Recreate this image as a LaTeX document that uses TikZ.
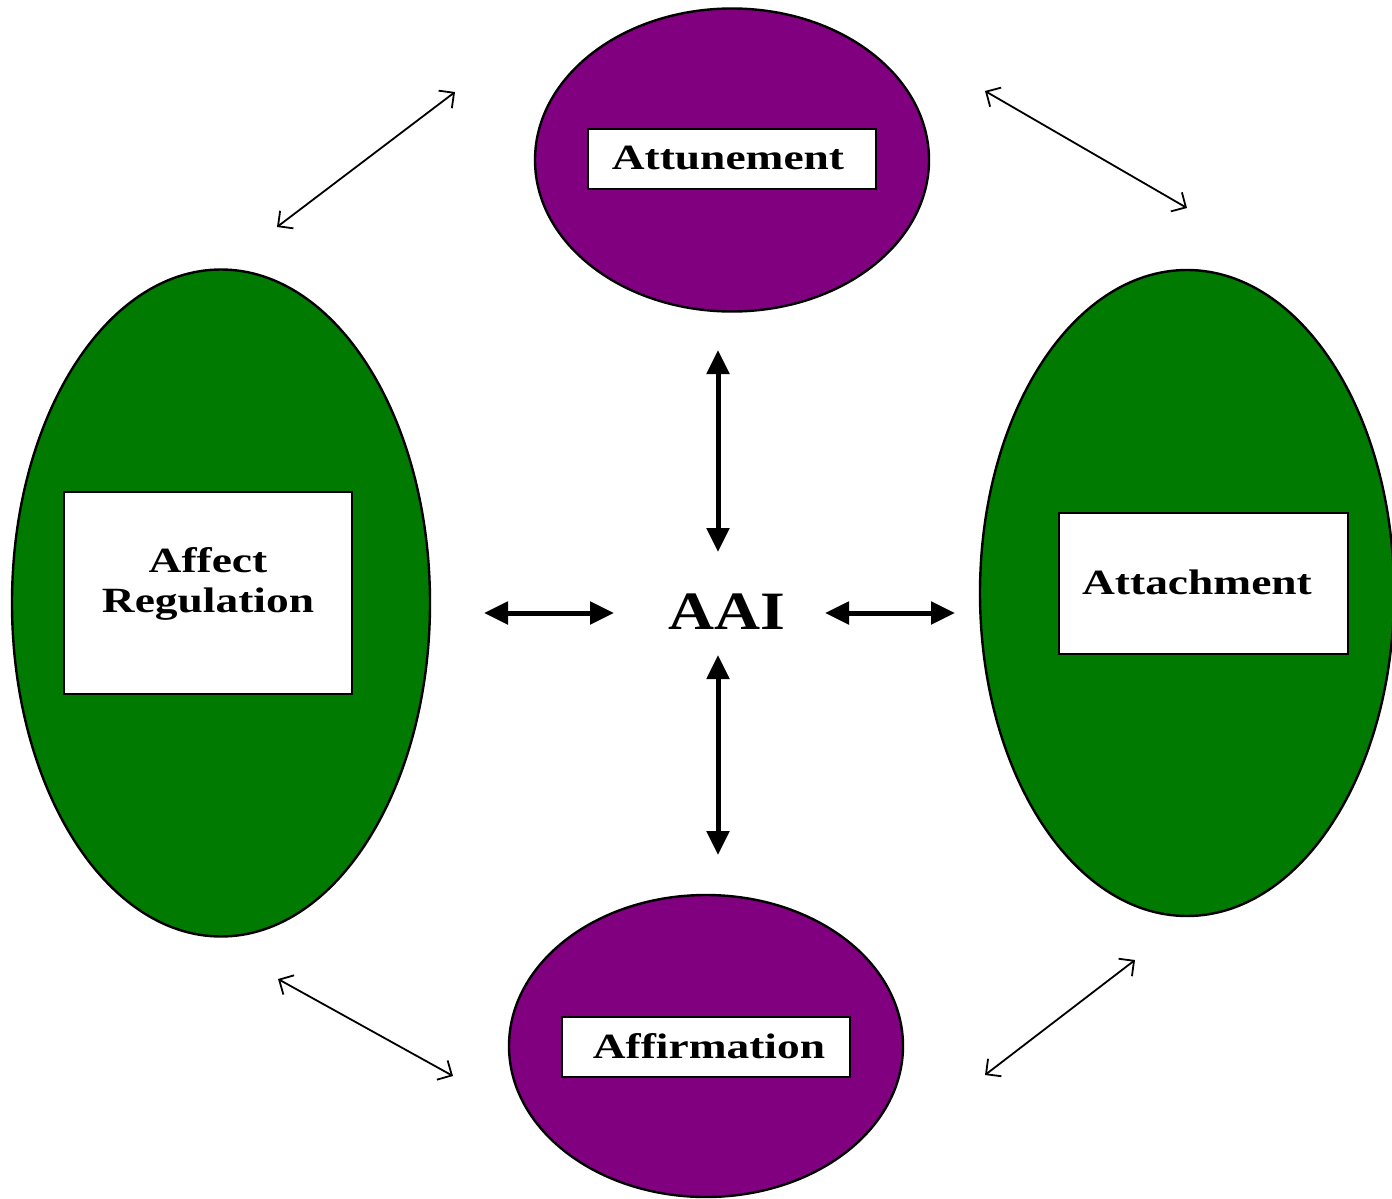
\documentclass[tikz,border=0pt]{standalone}
\usepackage{fontspec}
\setmainfont{Liberation Serif}
\newfontfamily\widefont[FakeStretch=1.28]{Liberation Serif}
\newfontfamily\aaifont[FakeStretch=1.18]{Liberation Serif}
\usetikzlibrary{shapes.geometric,arrows.meta}
\definecolor{purp}{RGB}{128,0,128}
\definecolor{grn}{RGB}{0,122,0}
\tikzset{
  oval/.style={ellipse, draw=black, line width=2.4pt, inner sep=0pt, outer sep=0pt},
  purpoval/.style={oval, fill=purp},
  grnoval/.style={oval, fill=grn},
  label box/.style={rectangle, draw=black, fill=white, line width=2pt, inner sep=0pt, outer sep=0pt},
  label text/.style={inner sep=0pt, align=center, font=\widefont\bfseries\fontsize{35.5}{40}\selectfont},
  thin link/.style={line width=1.8pt, {Straight Barb[length=11pt,width=22pt]}-{Straight Barb[length=11pt,width=22pt]}},
  thick link/.style={line width=5pt, {Triangle[length=24pt,width=22pt]}-{Triangle[length=24pt,width=22pt]}},
}
\begin{document}
\begin{tikzpicture}[x=1pt,y=-1pt]
\useasboundingbox (0,0) rectangle (1392,1199);
% ovals
\node[purpoval, minimum width=394pt, minimum height=303pt] (top) at (732,160) {};
\node[purpoval, minimum width=394pt, minimum height=302pt] (bot) at (706,1046) {};
\node[grnoval, minimum width=418pt, minimum height=667pt] (left) at (221,603) {};
\node[grnoval, minimum width=414pt, minimum height=646pt] (right) at (1187,593) {};
% label boxes
\node[label box, minimum width=288pt, minimum height=60pt] (attun) at (732,159) {};
\node[label box, minimum width=288pt, minimum height=60pt] (affirm) at (706,1047) {};
\node[label box, minimum width=288pt, minimum height=202pt] (affect) at (208,593) {};
\node[label box, minimum width=289pt, minimum height=141pt] (attach) at (1203.5,583.5) {};
% texts
\node[label text] (attunT) at (728,158) {Attunement};
\node[label text] (affirmT) at (709,1046) {Affirmation};
\node[label text] (affectT) at (208,584) {Affect\\Regulation};
\node[label text] (attachT) at (1197,582) {Attachment};
\node[font=\aaifont\bfseries\fontsize{54}{54}\selectfont, inner sep=0pt] (aai) at (727,612) {AAI};
% arrow end points
\coordinate (tl1) at (277,227); \coordinate (tl2) at (455,92);
\coordinate (tr1) at (985,91);  \coordinate (tr2) at (1187,208);
\coordinate (bl1) at (278,979); \coordinate (bl2) at (453,1076);
\coordinate (br1) at (985,1075); \coordinate (br2) at (1135,960);
\coordinate (vt1) at (718,350); \coordinate (vt2) at (718,552);
\coordinate (vb1) at (718,655); \coordinate (vb2) at (718,855);
\coordinate (hl1) at (484,613); \coordinate (hl2) at (614,613);
\coordinate (hr1) at (825,613); \coordinate (hr2) at (955,613);
% connectors
\draw[thin link] (tl1) -- (tl2);
\draw[thin link] (tr1) -- (tr2);
\draw[thin link] (bl1) -- (bl2);
\draw[thin link] (br1) -- (br2);
\draw[thick link] (vt1) -- (vt2);
\draw[thick link] (vb1) -- (vb2);
\draw[thick link] (hl1) -- (hl2);
\draw[thick link] (hr1) -- (hr2);
\end{tikzpicture}
\end{document}
